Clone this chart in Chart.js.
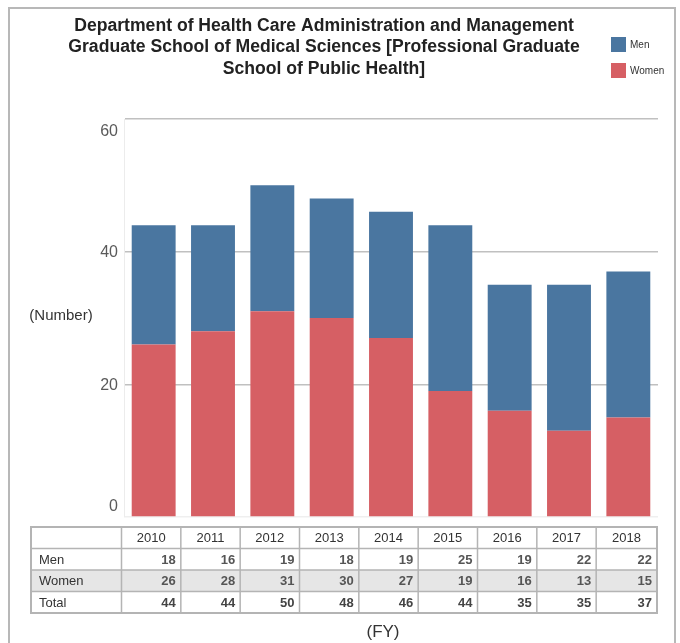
<!DOCTYPE html>
<html>
<head>
<meta charset="utf-8">
<script src="https://cdn.jsdelivr.net/npm/chart.js@4/dist/chart.umd.min.js"></script>
<style>
  html, body { margin: 0; padding: 0; background: #fff; }
  #wrap { width: 680px; height: 643px; position: relative; }
</style>
</head>
<body>
<div id="wrap"><canvas id="c" width="680" height="643"></canvas></div>
<script>
// ---- data ----
const categories = ["2010", "2011", "2012", "2013", "2014", "2015", "2016", "2017", "2018"];
const men   = [18, 16, 19, 18, 19, 25, 19, 22, 22];
const women = [26, 28, 31, 30, 27, 19, 16, 13, 15];
const total = [44, 44, 50, 48, 46, 44, 35, 35, 37];
const yTicks = [0, 20, 40, 60];
const titleLines = [
  "Department of Health Care Administration and Management",
  "Graduate School of Medical Sciences [Professional Graduate",
  "School of Public Health]"
];
const seriesNames = ["Men", "Women"];
const rowLabels = ["Men", "Women", "Total"];
const yAxisTitle = "(Number)";
const xAxisTitle = "(FY)";

const BLUE = "#4a76a0";
const RED = "#d65f64";
const FONT = "'Liberation Sans', Arial, sans-serif";

const overlay = {
  id: "overlay",
  afterDraw(chart) {
    const ctx = chart.ctx;
    const ca = chart.chartArea;
    const xs = chart.scales.x;
    const ys = chart.scales.y;
    ctx.save();

    // outer frame
    ctx.strokeStyle = "#b8b8b8";
    ctx.lineWidth = 2;
    ctx.strokeRect(9, 8, 666, 660);

    // title
    ctx.fillStyle = "#222";
    ctx.font = "bold 17.6px " + FONT;
    ctx.textAlign = "center";
    ctx.textBaseline = "middle";
    const ty = [26, 47.5, 69];
    titleLines.forEach((t, i) => ctx.fillText(t, 324, ty[i]));

    // legend
    ctx.font = "10px " + FONT;
    ctx.textAlign = "left";
    ctx.fillStyle = BLUE;
    ctx.fillRect(611, 37, 15, 15);
    ctx.fillStyle = RED;
    ctx.fillRect(611, 63, 15, 15);
    ctx.fillStyle = "#333";
    ctx.fillText(seriesNames[0], 630, 45);
    ctx.fillText(seriesNames[1], 630, 71);

    // y tick labels (clamped inside plot like the reference)
    ctx.font = "16px " + FONT;
    ctx.fillStyle = "#5a5a5a";
    ctx.textAlign = "right";
    yTicks.forEach(v => {
      let py = ys.getPixelForValue(v);
      py = Math.min(Math.max(py + 1, ca.top + 13), ca.bottom - 10);
      ctx.fillText(String(v), 118, py);
    });

    // y axis title
    ctx.font = "15px " + FONT;
    ctx.fillStyle = "#333";
    ctx.textAlign = "center";
    ctx.fillText(yAxisTitle, 61, 316);

    // table
    const n = categories.length;
    const half = (xs.getPixelForValue(1) - xs.getPixelForValue(0)) / 2;
    const bx = [31];
    for (let k = 0; k < n; k++) bx.push(xs.getPixelForValue(k) - half - 2.5);
    bx.push(xs.getPixelForValue(n - 1) + half - 1);
    const rowY = [527, 548.5, 570, 591.5, 613];
    const left = bx[0], right = bx[bx.length - 1];

    // women row shading
    ctx.fillStyle = "#e6e6e6";
    ctx.fillRect(left, rowY[2], right - left, rowY[3] - rowY[2]);

    // grid lines
    ctx.strokeStyle = "#b4b4b4";
    ctx.lineWidth = 1.5;
    ctx.beginPath();
    rowY.forEach(y => { ctx.moveTo(left, y); ctx.lineTo(right, y); });
    bx.forEach(x => { ctx.moveTo(x, rowY[0]); ctx.lineTo(x, rowY[4]); });
    ctx.stroke();
    ctx.lineWidth = 2;
    ctx.strokeRect(left, rowY[0], right - left, rowY[4] - rowY[0]);

    // header
    ctx.font = "13px " + FONT;
    ctx.fillStyle = "#333";
    ctx.textAlign = "center";
    categories.forEach((c, k) => {
      ctx.fillText(c, (bx[k + 1] + bx[k + 2]) / 2, (rowY[0] + rowY[1]) / 2 + 1);
    });
    // row labels
    ctx.textAlign = "left";
    rowLabels.forEach((r, i) => {
      ctx.fillText(r, 39, (rowY[i + 1] + rowY[i + 2]) / 2 + 1);
    });
    // values
    const rows = [men, women, total];
    ctx.textAlign = "right";
    rows.forEach((arr, i) => {
      ctx.font = "bold 13px " + FONT;
      ctx.fillStyle = i === 2 ? "#444" : "#555";
      arr.forEach((v, k) => {
        ctx.fillText(String(v), bx[k + 2] - 5, (rowY[i + 1] + rowY[i + 2]) / 2 + 1);
      });
    });

    // x axis title
    ctx.font = "17px " + FONT;
    ctx.fillStyle = "#333";
    ctx.textAlign = "center";
    ctx.fillText(xAxisTitle, 383, 632);

    ctx.restore();
  }
};

new Chart(document.getElementById("c"), {
  type: "bar",
  data: {
    labels: categories,
    datasets: [
      { label: seriesNames[1], data: women, backgroundColor: RED, stack: "s" },
      { label: seriesNames[0], data: men, backgroundColor: BLUE, stack: "s" }
    ]
  },
  options: {
    responsive: false,
    animation: false,
    events: [],
    layout: { padding: { left: 10, right: 22, top: 119, bottom: 126 } },
    datasets: { bar: { barPercentage: 0.74, categoryPercentage: 1.0 } },
    plugins: {
      legend: { display: false },
      title: { display: false },
      tooltip: { enabled: false }
    },
    scales: {
      x: { stacked: true, display: false },
      y: {
        stacked: true,
        min: 0,
        max: 60,
        afterFit(s) { s.width = 114; },
        afterBuildTicks(s) { s.ticks = yTicks.map(v => ({ value: v })); },
        ticks: { display: false },
        border: { display: true, color: "#ececec", width: 1 },
        grid: {
          drawTicks: false,
          lineWidth: 1.5,
          color: ctx => (ctx.tick && ctx.tick.value === 0) ? "#efefef" : "#c0c0c0"
        }
      }
    }
  },
  plugins: [overlay]
});
</script>
</body>
</html>
